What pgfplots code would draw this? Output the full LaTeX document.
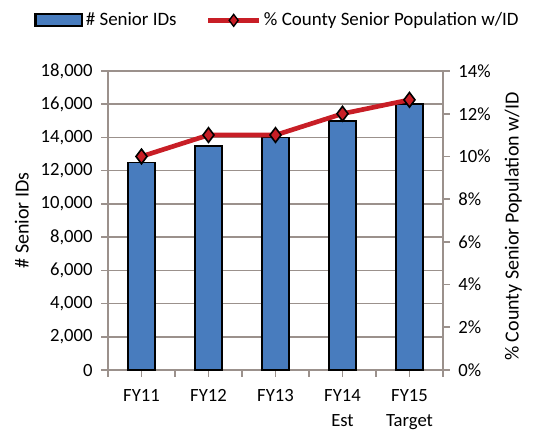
\documentclass[border=0pt]{standalone}
\usepackage{pgfplots}
\pgfplotsset{compat=1.18}
\usepackage{fontspec}
\setmainfont{Carlito}
\definecolor{barblue}{RGB}{72,124,190}
\definecolor{linered}{RGB}{200,30,38}
\definecolor{gridc}{RGB}{155,145,140}
\pgfplotsset{
  barlegend/.style={legend image code/.code={\draw[##1, line width=1.6pt] (0pt,-4.5pt) rectangle (35pt,4.5pt);}},
  linelegend/.style={legend image code/.code={\draw[##1, mark repeat=2, mark phase=2] plot coordinates {(0pt,0pt) (19pt,0pt) (38pt,0pt)};}},
}
\begin{document}
\begin{tikzpicture}
\pgfplotsset{
  every axis/.append style={
    scale only axis, width=251.25pt, height=224.25pt,
    xmin=-0.5, xmax=4.5,
    font=\fontsize{14}{16}\selectfont,
    /pgf/number format/assume math mode=true,
    axis line style={gridc, line width=1.2pt},
    major tick length=5pt,
  }
}
\begin{axis}[name=ax,
  axis y line*=left, axis x line*=bottom,
  ymin=0, ymax=18000, ytick={0,2000,...,18000},
  ymajorgrids=true, grid style={gridc, line width=1.2pt},
  yticklabel style={xshift=-3pt, /pgf/number format/1000 sep={,}},
  ytick style={draw=gridc, line width=1.2pt},
  scaled y ticks=false,
  tick align=outside,
  xtick={-0.5,0.5,1.5,2.5,3.5,4.5},
  xticklabels={},
  xtick style={draw=gridc, line width=1.2pt},
  extra x ticks={0,1,2,3,4},
  extra x tick labels={FY11,FY12,FY13,{FY14\\Est},{FY15\\Target}},
  extra x tick style={tick style={draw=none},
    xticklabel style={align=center, yshift=-6pt, font=\fontsize{14}{19}\selectfont}},
  ylabel={\# Senior IDs},
  every axis y label/.style={at={(axis description cs:-0.257,0.5)}, rotate=90, anchor=center, font=\fontsize{15}{17}\selectfont},
  legend style={at={(0.507,1)}, anchor=center, yshift=38pt, draw=none, legend columns=2, fill=none,
    /tikz/every even column/.append style={column sep=20pt}, font=\fontsize{14.2}{16}\selectfont,
    inner sep=0pt},
  legend cell align=left,
]
\addplot[gridc, line width=1.2pt, forget plot] coordinates {(-0.5,2000) (4.5,2000)};
\addplot[gridc, line width=1.2pt, forget plot] coordinates {(-0.5,4000) (4.5,4000)};
\addplot[gridc, line width=1.2pt, forget plot] coordinates {(-0.5,6000) (4.5,6000)};
\addplot[gridc, line width=1.2pt, forget plot] coordinates {(-0.5,8000) (4.5,8000)};
\addplot[gridc, line width=1.2pt, forget plot] coordinates {(-0.5,10000) (4.5,10000)};
\addplot[gridc, line width=1.2pt, forget plot] coordinates {(-0.5,12000) (4.5,12000)};
\addplot[gridc, line width=1.2pt, forget plot] coordinates {(-0.5,14000) (4.5,14000)};
\addplot[gridc, line width=1.2pt, forget plot] coordinates {(-0.5,16000) (4.5,16000)};
\addplot[gridc, line width=1.2pt, forget plot] coordinates {(-0.5,18000) (4.5,18000)};
\addplot[ybar, bar width=0.4, fill=barblue, draw=black, line width=1.3pt, barlegend] coordinates {
  (0,12500) (1,13500) (2,14000) (3,15000) (4,16000)
};
\addlegendentry{\# Senior IDs}
\addlegendimage{linered, line width=3.5pt, mark=diamond*, mark size=4.5pt, mark options={fill=linered, draw=black, line width=1pt}, linelegend}
\addlegendentry{\% County Senior Population w/ID}
\end{axis}
\begin{axis}[
  axis y line*=right, axis x line=none,
  ymin=0, ymax=14, ytick={0,2,...,14},
  yticklabel={\pgfmathprintnumber{\tick}\%},
  yticklabel style={xshift=3pt},
  ytick style={draw=gridc, line width=1.2pt},
  tick align=outside,
  ylabel={\% County Senior Population w/ID},
  every axis y label/.style={at={(axis description cs:1.21,0.48)}, rotate=90, anchor=center, font=\fontsize{15}{17}\selectfont},
]
\addplot[linered, line width=3.5pt, mark=diamond*, mark size=5.5pt, mark options={fill=linered, draw=black, line width=1.2pt}] coordinates {
  (0,10) (1,11) (2,11) (3,12) (4,12.65)
};
\end{axis}
\pgfresetboundingbox
\path (ax.south west) ++(-81pt,-45pt) rectangle ++(404.25pt,322.5pt);
\end{tikzpicture}
\end{document}
